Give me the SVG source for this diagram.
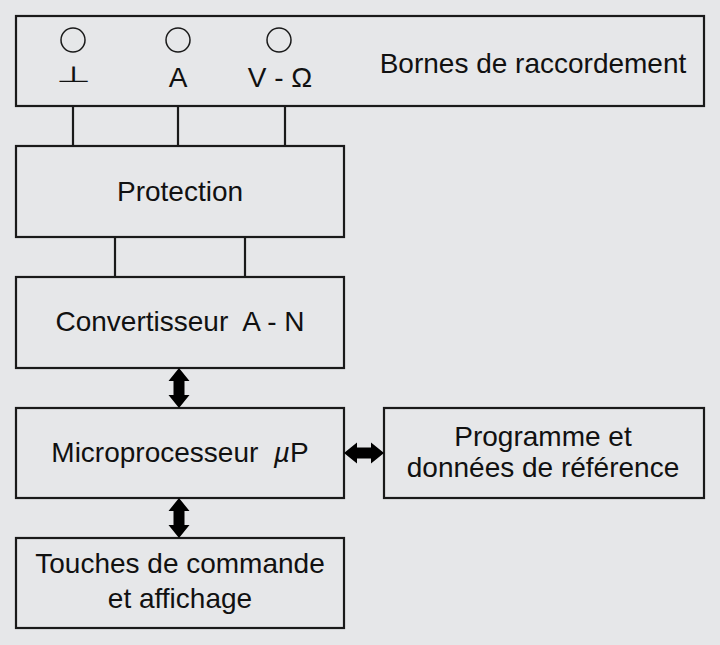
<svg xmlns="http://www.w3.org/2000/svg" width="720" height="645" viewBox="0 0 720 645">
<defs>
<style>
.box{fill:none;stroke:#1a1a1a;stroke-width:2.2}
.wire{stroke:#1a1a1a;stroke-width:2.2;fill:none}
.term{fill:none;stroke:#1a1a1a;stroke-width:1.5}
.t{font-family:"Liberation Sans",Arial,sans-serif;font-size:28px;fill:#111;text-anchor:middle}
.arr{fill:#000}
</style>
</defs>
<rect width="720" height="645" fill="#e6e7e9"/>
<g id="bornes">
<rect class="box" x="16" y="16" width="688" height="90"/>
<circle class="term" cx="73" cy="40" r="12"/>
<circle class="term" cx="178" cy="40" r="12"/>
<circle class="term" cx="279" cy="40" r="12"/>
<text class="t" x="73" y="82" style="font-family:'DejaVu Sans',sans-serif;font-size:36px;font-weight:200" transform="translate(73 82) scale(1.1 0.6) translate(-73 -82)">⊥</text>
<text class="t" x="178" y="87">A</text>
<text class="t" x="280" y="87">V - Ω</text>
<text class="t" x="533" y="73">Bornes de raccordement</text>
</g>
<g id="protection">
<rect class="box" x="16" y="146" width="328" height="91"/>
<text class="t" x="180" y="201">Protection</text>
</g>
<g id="convertisseur">
<rect class="box" x="16" y="277" width="328" height="91"/>
<text class="t" x="180" y="331" xml:space="preserve">Convertisseur  A - N</text>
</g>
<g id="microprocesseur">
<rect class="box" x="16" y="408" width="328" height="90"/>
<text class="t" x="180" y="462" xml:space="preserve">Microprocesseur  <tspan font-style="italic">µ</tspan>P</text>
</g>
<g id="programme">
<rect class="box" x="384" y="408" width="320" height="90"/>
<text class="t" x="543" y="446">Programme et</text>
<text class="t" x="543" y="477">données de référence</text>
</g>
<g id="touches">
<rect class="box" x="16" y="538" width="328" height="90"/>
<text class="t" x="180" y="573">Touches de commande</text>
<text class="t" x="180" y="608">et affichage</text>
</g>
<g id="connectors">
<line class="wire" x1="73" y1="106" x2="73" y2="146"/>
<line class="wire" x1="178" y1="106" x2="178" y2="146"/>
<line class="wire" x1="285" y1="106" x2="285" y2="146"/>
<line class="wire" x1="115" y1="237" x2="115" y2="277"/>
<line class="wire" x1="245" y1="237" x2="245" y2="277"/>
<path class="arr" d="M179,368 L189.5,381 L184.5,381 L184.5,395 L189.5,395 L179,408 L168.5,395 L173.5,395 L173.5,381 L168.5,381 Z"/>
<path class="arr" d="M179,498 L189.5,511 L184.5,511 L184.5,525 L189.5,525 L179,538 L168.5,525 L173.5,525 L173.5,511 L168.5,511 Z"/>
<path class="arr" d="M344,453 L357,442.5 L357,447.5 L371,447.5 L371,442.5 L384,453 L371,463.5 L371,458.5 L357,458.5 L357,463.5 Z"/>
</g>
</svg>
